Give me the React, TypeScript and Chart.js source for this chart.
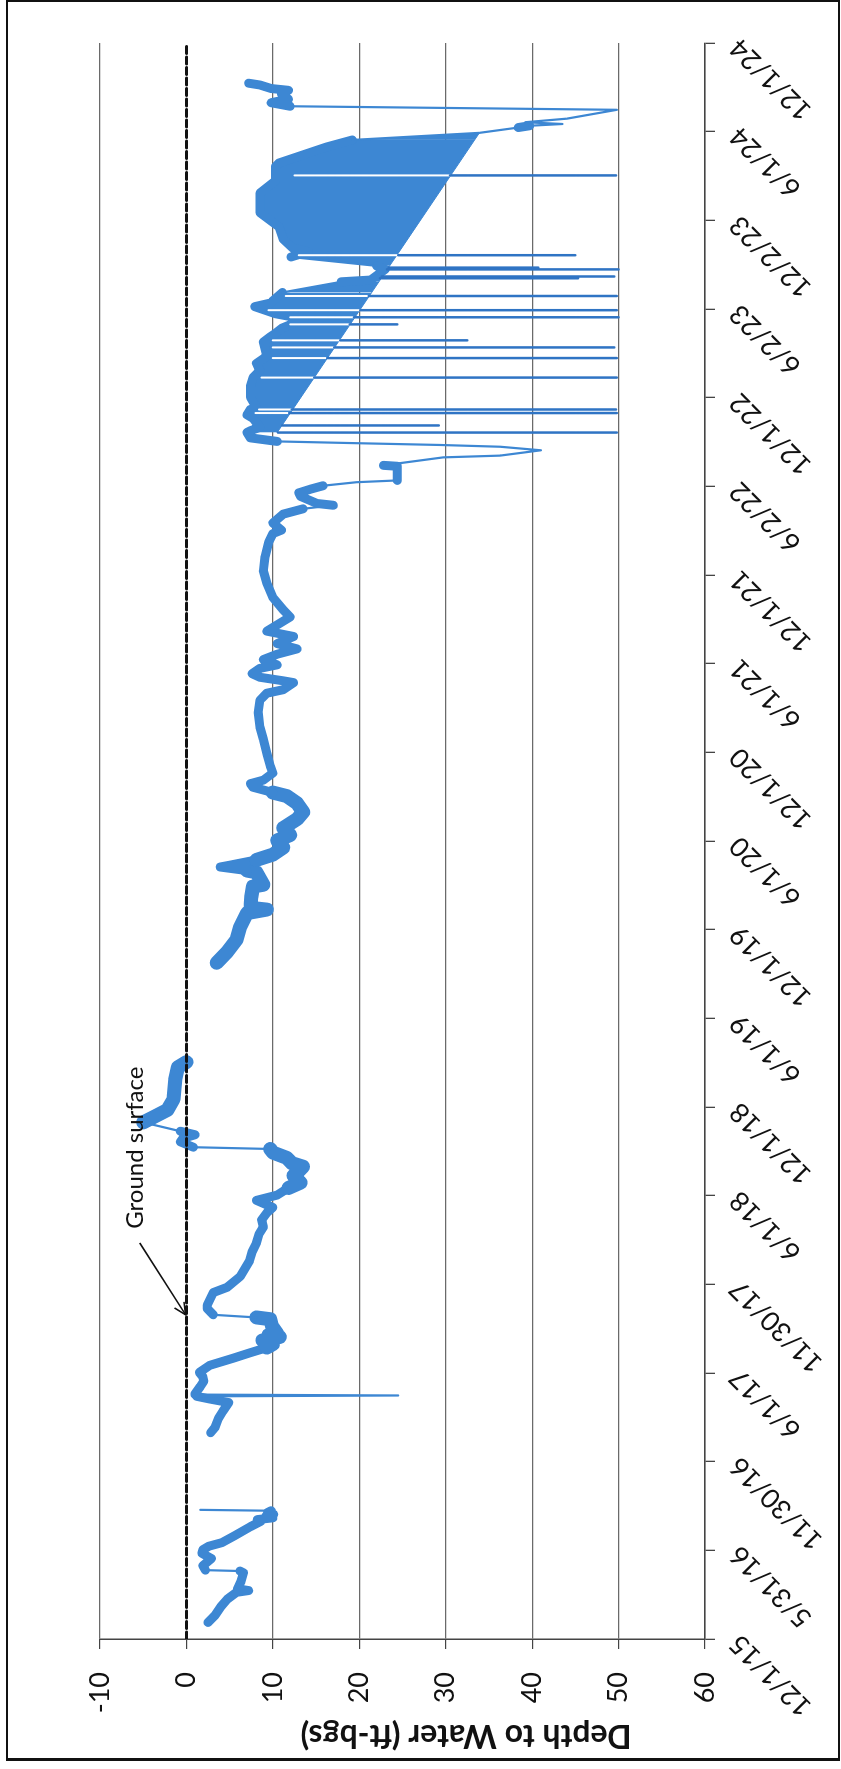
import React, { useEffect, useRef } from 'react';
import { Chart, registerables } from 'chart.js';

Chart.register(...registerables);

// ---------- axis labels ----------
const tickLabels = ['12/1/15', '5/31/16', '11/30/16', '6/1/17', '11/30/17', '6/1/18', '12/1/18', '6/1/19', '12/1/19', '6/1/20', '12/1/20', '6/1/21', '12/1/21', '6/2/22', '12/1/22', '6/2/23', '12/2/23', '6/1/24', '12/1/24'];
const AXIS_START = 2015.9167; // 12/1/15 as decimal year
const AXIS_STEP = 0.5;
const AXIS_END = 2024.9167;
const DEPTH_MIN = -10;
const DEPTH_MAX = 60;

// ---------- series (decimal year, depth ft-bgs) ----------
const seg2016Years = [2016.01, 2016.05, 2016.10, 2016.14, 2016.18, 2016.19, 2016.20, 2016.24, 2016.29, 2016.30, 2016.305, 2016.33, 2016.35, 2016.37, 2016.40, 2016.42, 2016.44, 2016.46, 2016.50, 2016.55, 2016.58, 2016.59, 2016.60, 2016.61, 2016.62, 2016.63, 2016.64, 2016.645];
const seg2016Depths = [2.5, 3.3, 4.0, 4.7, 5.8, 7.2, 5.9, 6.3, 6.6, 6.2, 2.2, 1.9, 2.4, 2.9, 1.8, 1.9, 2.6, 4.1, 5.6, 7.4, 8.6, 8.2, 10.0, 9.2, 10.1, 9.4, 9.8, 1.6];

const seg2017Years = [2017.08, 2017.11, 2017.16, 2017.20, 2017.25, 2017.27, 2017.285, 2017.29, 2017.295, 2017.30, 2017.34, 2017.37, 2017.395, 2017.42, 2017.46, 2017.50, 2017.53, 2017.56, 2017.58, 2017.60, 2017.62, 2017.63, 2017.64, 2017.68, 2017.72, 2017.73, 2017.745, 2017.78, 2017.80, 2017.87, 2017.90, 2017.96, 2018.05, 2018.10, 2018.15, 2018.20, 2018.24, 2018.28, 2018.32, 2018.35, 2018.39, 2018.42, 2018.46, 2018.49, 2018.53, 2018.555, 2018.58, 2018.60, 2018.63, 2018.66, 2018.68, 2018.69, 2018.72, 2018.74, 2018.76, 2018.78, 2018.83, 2018.86, 2018.90, 2018.96, 2019.07, 2019.14, 2019.17];
const seg2017Depths = [2.8, 3.3, 3.7, 4.2, 4.9, 2.7, 1.2, 24.5, 1.0, 1.0, 1.6, 2.0, 1.9, 1.5, 2.7, 5.4, 7.3, 9.3, 10.0, 8.8, 10.8, 9.5, 10.5, 9.9, 9.7, 8.1, 3.1, 2.4, 2.4, 3.1, 4.7, 6.2, 7.3, 7.6, 8.1, 8.4, 8.9, 8.7, 9.3, 10.0, 8.1, 10.5, 11.8, 13.2, 12.4, 13.0, 13.5, 12.2, 11.6, 10.0, 9.7, 0.8, -0.7, -0.4, 1.0, -0.7, -5.0, -3.8, -2.2, -1.5, -1.3, -1.0, 0.0];

const seg2019Years = [2019.73, 2019.79, 2019.86, 2019.93, 2020.01, 2020.03, 2020.04, 2020.10, 2020.16, 2020.17, 2020.24, 2020.25, 2020.27, 2020.28, 2020.31, 2020.34, 2020.38, 2020.42, 2020.45, 2020.49, 2020.54, 2020.58, 2020.63, 2020.67, 2020.69, 2020.72, 2020.74, 2020.76, 2020.80, 2020.84, 2020.91, 2020.99, 2021.06, 2021.14, 2021.21, 2021.25, 2021.27, 2021.31, 2021.32, 2021.34, 2021.36, 2021.39, 2021.41, 2021.44, 2021.47, 2021.50, 2021.53, 2021.57, 2021.60, 2021.68, 2021.72, 2021.79, 2021.87, 2021.94, 2022.02, 2022.10, 2022.15, 2022.17, 2022.21, 2022.26, 2022.29, 2022.31, 2022.32, 2022.36, 2022.38, 2022.40, 2022.42, 2022.44, 2022.45, 2022.53, 2022.535, 2022.58, 2022.59, 2022.62, 2022.64, 2022.65, 2022.66, 2022.67, 2022.69, 2022.72, 2022.73, 2022.75, 2022.80, 2022.82, 2022.85, 2022.86, 2022.92, 2022.98, 2023.03, 2023.07, 2023.11, 2023.15, 2023.23, 2023.26, 2023.28, 2023.31, 2023.36, 2023.39, 2023.43, 2023.45, 2023.51, 2023.57, 2023.58, 2023.64, 2023.66, 2023.71, 2023.74, 2023.76, 2023.81, 2023.88, 2023.96, 2024.07, 2024.14, 2024.22, 2024.24, 2024.33, 2024.37, 2024.41, 2024.44, 2024.45, 2024.46, 2024.47, 2024.49, 2024.54, 2024.56, 2024.58, 2024.60, 2024.63, 2024.65, 2024.66, 2024.68, 2024.69];
const seg2019Depths = [3.5, 4.7, 5.8, 6.2, 7.0, 9.3, 7.4, 7.5, 7.7, 8.9, 8.1, 7.0, 3.9, 5.0, 8.1, 10.0, 11.2, 10.5, 12.0, 11.2, 12.8, 13.5, 12.8, 11.6, 10.0, 7.7, 7.4, 8.9, 10.0, 9.7, 9.3, 8.9, 8.5, 8.3, 8.5, 9.3, 11.2, 12.4, 11.2, 8.5, 7.6, 8.5, 10.5, 8.9, 10.5, 12.8, 10.5, 12.4, 9.3, 12.0, 11.2, 10.0, 9.3, 8.9, 9.1, 9.5, 10.0, 11.0, 10.0, 11.2, 13.5, 17.0, 15.1, 13.2, 13.0, 14.3, 15.8, 19.7, 24.4, 24.4, 22.8, 29.7, 36.3, 41.0, 36.3, 29.3, 19.7, 10.5, 7.4, 7.0, 7.4, 8.5, 7.7, 7.0, 7.4, 8.1, 7.4, 7.4, 7.7, 8.5, 8.1, 9.3, 8.9, 9.7, 10.3, 11.1, 13.6, 10.3, 7.9, 9.7, 11.1, 17.9, 21.3, 23.0, 22.0, 12.1, 14.1, 12.3, 11.2, 10.7, 8.5, 8.5, 10.3, 10.3, 10.7, 16.2, 19.2, 33.9, 38.4, 39.7, 43.5, 39.2, 44.0, 49.8, 12.0, 9.8, 11.8, 11.0, 11.8, 9.8, 8.5, 7.2];

// straight edge of the dense band (2022-2024)
const edgeYears = [2022.72, 2024.41];
const edgeDepths = [10.5, 33.9];

// momentary readings (spikes) in 2022-2024
const spikeYears = [2022.72, 2022.76, 2022.83, 2022.85, 2023.03, 2023.14, 2023.20, 2023.24, 2023.33, 2023.37, 2023.41, 2023.49, 2023.59, 2023.60, 2023.64, 2023.65, 2023.72, 2024.17];
const spikeBase = [10.6, 11.1, 11.9, 12.2, 14.8, 16.3, 17.1, 17.8, 18.9, 19.4, 20.1, 21.1, 22.4, 22.6, 23.2, 23.4, 24.5, 30.5];
const spikeEnd = [49.8, 29.2, 49.8, 49.7, 49.8, 49.8, 49.5, 32.5, 24.4, 50.0, 49.8, 49.8, 45.3, 49.5, 50.0, 40.7, 45.0, 49.7];
const gapStart: (number | null)[] = [null, null, 8.0, 8.4, 8.7, 10.0, 10.0, 10.0, 12.0, 12.0, 9.5, 11.5, null, null, null, null, 13.0, 12.5];

const groundYears = [AXIS_START, AXIS_END];
const groundDepths = [0, 0];

// time spans where the logged band is visibly wider (style only)
const wideSpans = [
  [2017.55, 2017.73],
  [2018.44, 2018.67],
  [2018.79, 2019.17],
  [2019.73, 2020.25],
  [2020.30, 2020.68],
];

// annotation
const GROUND_LABEL = 'Ground surface';
const LABEL_AT = [2018.23, -5.0];
const ARROW_FROM = [2018.15, -5.4];
const ARROW_TO = [2017.745, -0.1];
const Y_TITLE = 'Depth to Water (ft-bgs)';

const BLUE = '#3d87d3';
const BLUE_DARK = '#2f74c4';

const toPoints = (xs: number[], ys: number[]) => xs.map((x, i) => ({ x, y: ys[i] }));

function pairPoints(xs: number[], from: (number | null)[], to: number[]) {
  const pts: { x: number; y: number | null }[] = [];
  xs.forEach((x, i) => {
    const f = from[i];
    if (f === null || f === undefined) return;
    pts.push({ x, y: f }, { x, y: to[i] }, { x, y: null });
  });
  return pts;
}

const segWidth = (ctx: any) => {
  const dx = Math.abs(ctx.p1.x - ctx.p0.x);
  const dy = Math.abs(ctx.p1.y - ctx.p0.y);
  if (dy > 30 && dy > 3 * dx) return 2.2;
  const ds = ctx.chart.data.datasets[ctx.datasetIndex].data as any[];
  const xv = ds[ctx.p0DataIndex] ? ds[ctx.p0DataIndex].x : 0;
  for (const [a, b] of wideSpans) {
    if (xv >= a && xv < b) return 14;
  }
  return 9;
};

const yTitlePlugin = {
  id: 'yTitle',
  afterDraw(chart: any) {
    const { ctx, chartArea } = chart;
    ctx.save();
    ctx.translate(44, chartArea.top + 0.605 * (chartArea.bottom - chartArea.top));
    ctx.rotate(-Math.PI / 2);
    ctx.font = 'bold 32px Lato';
    ctx.fillStyle = '#111';
    ctx.textAlign = 'center';
    ctx.textBaseline = 'alphabetic';
    ctx.fillText(Y_TITLE, 0, 0);
    ctx.restore();
  },
};

const groundPlugin = {
  id: 'groundLabel',
  afterDatasetsDraw(chart: any) {
    const { ctx } = chart;
    const x = chart.scales.x;
    const y = chart.scales.y;
    ctx.save();
    ctx.fillStyle = '#111';
    ctx.font = '24px Lato';
    ctx.textAlign = 'left';
    ctx.textBaseline = 'alphabetic';
    ctx.fillText(GROUND_LABEL, x.getPixelForValue(LABEL_AT[0]), y.getPixelForValue(LABEL_AT[1]));
    const x0 = x.getPixelForValue(ARROW_FROM[0]);
    const y0 = y.getPixelForValue(ARROW_FROM[1]);
    const x1 = x.getPixelForValue(ARROW_TO[0]);
    const y1 = y.getPixelForValue(ARROW_TO[1]);
    ctx.strokeStyle = '#111';
    ctx.lineWidth = 1.5;
    ctx.beginPath();
    ctx.moveTo(x0, y0);
    ctx.lineTo(x1, y1);
    ctx.stroke();
    const ang = Math.atan2(y1 - y0, x1 - x0);
    const L = 13;
    const a = 0.45;
    ctx.beginPath();
    ctx.moveTo(x1 - L * Math.cos(ang - a), y1 - L * Math.sin(ang - a));
    ctx.lineTo(x1, y1);
    ctx.lineTo(x1 - L * Math.cos(ang + a), y1 - L * Math.sin(ang + a));
    ctx.stroke();
    ctx.restore();
  },
};

export default function App() {
  const ref = useRef<HTMLCanvasElement>(null);

  useEffect(() => {
    const canvas = ref.current;
    if (!canvas) return;
    Chart.defaults.font.family = 'Lato';
    const chart = new Chart(canvas, {
      type: 'line',
      data: {
        datasets: [
          {
            label: 'ground',
            data: toPoints(groundYears, groundDepths),
            borderColor: '#111',
            borderWidth: 3,
            borderDash: [7, 3.5],
            pointRadius: 0,
            order: 0,
          },
          {
            label: 'spikes',
            data: pairPoints(spikeYears, spikeBase, spikeEnd),
            borderColor: BLUE_DARK,
            borderWidth: 2.5,
            pointRadius: 0,
            spanGaps: false,
            order: 1,
          },
          {
            label: 'gaps',
            data: pairPoints(spikeYears, gapStart, spikeBase),
            borderColor: '#ffffff',
            borderWidth: 2,
            pointRadius: 0,
            spanGaps: false,
            order: 2,
          },
          {
            label: '2016',
            data: toPoints(seg2016Years, seg2016Depths),
            borderColor: BLUE,
            borderWidth: 9,
            pointRadius: 0,
            segment: { borderWidth: segWidth },
            order: 3,
          },
          {
            label: '2017',
            data: toPoints(seg2017Years, seg2017Depths),
            borderColor: BLUE,
            borderWidth: 9,
            pointRadius: 0,
            segment: { borderWidth: segWidth },
            order: 3,
          },
          {
            label: '2019',
            data: toPoints(seg2019Years, seg2019Depths),
            borderColor: BLUE,
            backgroundColor: BLUE,
            borderWidth: 9,
            pointRadius: 0,
            fill: { target: 6 },
            segment: { borderWidth: segWidth },
            order: 4,
          },
          {
            label: 'edge',
            data: toPoints(edgeYears, edgeDepths),
            borderColor: BLUE,
            borderWidth: 1,
            pointRadius: 0,
            order: 5,
          },
        ],
      },
      options: {
        responsive: false,
        maintainAspectRatio: false,
        devicePixelRatio: 1,
        animation: false,
        layout: { padding: { top: 100, right: 43, bottom: 0, left: 0 } },
        elements: { line: { tension: 0, borderJoinStyle: 'round', borderCapStyle: 'round' } },
        plugins: { legend: { display: false }, tooltip: { enabled: false }, title: { display: false } },
        scales: {
          x: {
            type: 'linear',
            min: AXIS_START,
            max: AXIS_END,
            afterBuildTicks: (s: any) => {
              s.ticks = tickLabels.map((_, i) => ({ value: AXIS_START + i * AXIS_STEP }));
            },
            afterFit: (s: any) => {
              s.height = 136;
            },
            ticks: {
              autoSkip: false,
              minRotation: 45,
              maxRotation: 45,
              padding: 8,
              color: '#111',
              font: { family: 'Lato', size: 27 },
              callback: (_v: any, i: number) => tickLabels[i],
            },
            grid: { drawOnChartArea: false, drawTicks: true, tickLength: 10, color: '#444', lineWidth: 1.3 },
            border: { display: true, color: '#444', width: 1.5 },
          },
          y: {
            type: 'linear',
            reverse: true,
            min: DEPTH_MIN,
            max: DEPTH_MAX,
            afterFit: (s: any) => {
              s.width = 130;
            },
            ticks: {
              stepSize: 10,
              padding: 23,
              color: '#111',
              font: { family: 'Lato', size: 27 },
            },
            grid: {
              color: (c: any) => (c.tick && c.tick.value === 0 ? 'rgba(0,0,0,0)' : '#6a6a6a'),
              tickColor: '#444',
              lineWidth: 1.2,
              drawTicks: true,
              tickLength: 10,
            },
            border: { display: true, color: '#444', width: 1.5 },
          },
        },
      },
      plugins: [yTitlePlugin, groundPlugin],
    } as any);
    return () => chart.destroy();
  }, []);

  return (
    <div style={{ position: 'absolute', left: 0, top: 0, width: 841, height: 1769, background: '#fff', overflow: 'hidden' }}>
      <div
        style={{
          position: 'absolute',
          left: 0,
          top: 0,
          width: 1769,
          height: 841,
          transformOrigin: '0 0',
          transform: 'translate(0px, 1769px) rotate(-90deg)',
        }}
      >
        <canvas ref={ref} width={1769} height={841} style={{ display: 'block', width: 1769, height: 841 }} />
      </div>
      <div
        style={{
          position: 'absolute',
          left: 6,
          top: 0,
          width: 834,
          height: 1761,
          border: '2px solid #111',
          borderBottomWidth: 3,
          boxSizing: 'border-box',
          pointerEvents: 'none',
        }}
      />
    </div>
  );
}
